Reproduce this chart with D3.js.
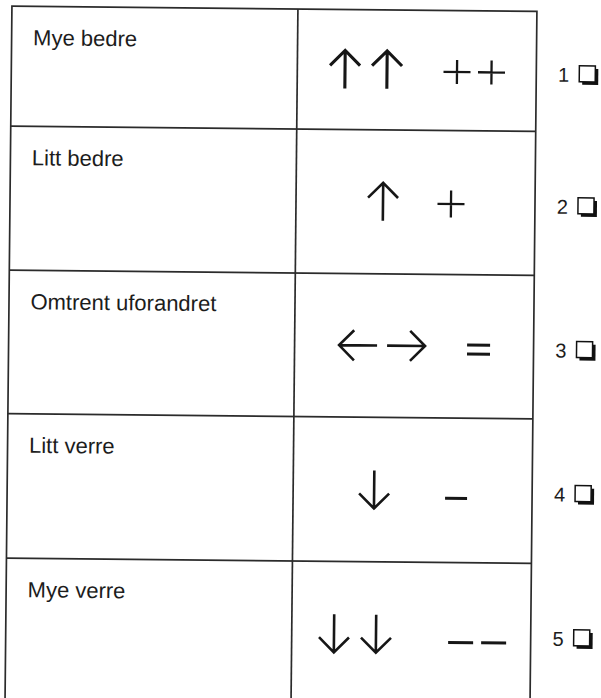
<!DOCTYPE html>
<html><head><meta charset="utf-8">
<script src="https://cdn.jsdelivr.net/npm/d3@7"></script>
<style>html,body{margin:0;padding:0;background:#fff;}svg{display:block}</style>
</head><body>
<svg id="c" width="601" height="698"></svg>
<script>
// ---- data ----
const labels = ["Mye bedre", "Litt bedre", "Omtrent uforandret", "Litt verre", "Mye verre"];
const codes = ["1", "2", "3", "4", "5"];
const arrowSymbols = ["↑↑", "↑", "←→", "↓", "↓↓"];
const signSymbols = ["++", "+", "=", "−", "−−"];

// ---- layout ----
const W = 601, H = 698;
const rowEdges = [6, 126, 270, 413.5, 558, 702];
const xL = 12, xM = 298, xR = 537;
const arrowX = [[345.7, 387.7], [385], [361.5, 409.5], [379], [340.3, 382.3]];
const signX = [[457.7, 492.2], [453], [482], [461], [467, 500]];
const arrowStroke = [3.1, 2.6, 2.6, 2.6, 2.6];

const svg = d3.select("#c");
svg.append("rect").attr("width", W).attr("height", H).attr("fill", "#fff");
const g = svg.append("g").attr("transform", "rotate(0.57)");

const yTop = d3.scaleOrdinal().domain(labels).range(rowEdges.slice(0, 5));
const yBot = d3.scaleOrdinal().domain(labels).range(rowEdges.slice(1));
const yMid = d => (yTop(d) + yBot(d)) / 2;

const lineCol = "#2b2b2b", inkCol = "#161616";

// table grid
g.append("rect").attr("x", xL).attr("y", rowEdges[0]).attr("width", xR - xL)
  .attr("height", rowEdges[5] - rowEdges[0]).attr("fill", "none")
  .attr("stroke", lineCol).attr("stroke-width", 1.7);
g.append("line").attr("x1", xM).attr("x2", xM).attr("y1", rowEdges[0]).attr("y2", rowEdges[5])
  .attr("stroke", lineCol).attr("stroke-width", 1.7);
g.selectAll("line.row").data(labels.slice(1)).join("line").attr("class", "row")
  .attr("x1", xL).attr("x2", xR).attr("y1", d => yTop(d)).attr("y2", d => yTop(d))
  .attr("stroke", lineCol).attr("stroke-width", 1.7);

// labels
g.selectAll("text.lab").data(labels).join("text").attr("class", "lab")
  .attr("x", 33.5).attr("y", d => yTop(d) + 39)
  .attr("font-family", "'Liberation Sans', Arial, sans-serif").attr("font-size", 22)
  .attr("fill", "#1c1c1c").text(d => d);

// arrows
function arrowPath(ch, cx, cy) {
  const h = 19, hw = 15, hd = 15;
  const p = d3.path();
  if (ch === "↑") { p.moveTo(cx, cy + h); p.lineTo(cx, cy - h); p.moveTo(cx - hw, cy - h + hd); p.lineTo(cx, cy - h); p.lineTo(cx + hw, cy - h + hd); }
  if (ch === "↓") { p.moveTo(cx, cy - h); p.lineTo(cx, cy + h); p.moveTo(cx - hw, cy + h - hd); p.lineTo(cx, cy + h); p.lineTo(cx + hw, cy + h - hd); }
  if (ch === "←") { p.moveTo(cx + h, cy); p.lineTo(cx - h, cy); p.moveTo(cx - h + hd, cy - hw); p.lineTo(cx - h, cy); p.lineTo(cx - h + hd, cy + hw); }
  if (ch === "→") { p.moveTo(cx - h, cy); p.lineTo(cx + h, cy); p.moveTo(cx + h - hd, cy - hw); p.lineTo(cx + h, cy); p.lineTo(cx + h - hd, cy + hw); }
  return p.toString();
}
labels.forEach((lab, i) => {
  const cy = yMid(lab);
  Array.from(arrowSymbols[i]).forEach((ch, j) => {
    g.append("path").attr("d", arrowPath(ch, arrowX[i][j], cy))
      .attr("fill", "none").attr("stroke", inkCol).attr("stroke-width", arrowStroke[i])
      .attr("stroke-linecap", "butt").attr("stroke-linejoin", "miter");
  });
  Array.from(signSymbols[i]).forEach((ch, j) => {
    const cx = signX[i][j];
    const p = d3.path();
    let sw = 2.3;
    if (ch === "+") {
      const c = cy + 1.5, hw = 13.5, hh = (i === 0 ? 12 : 13.5);
      p.moveTo(cx - hw, c); p.lineTo(cx + hw, c);
      p.moveTo(cx, c - hh); p.lineTo(cx, c + hh);
    } else if (ch === "=") {
      const c = cy + 3;
      p.moveTo(cx - 11.5, c - 4.5); p.lineTo(cx + 11.5, c - 4.5);
      p.moveTo(cx - 11.5, c + 4.5); p.lineTo(cx + 11.5, c + 4.5);
      sw = 3;
    } else {
      const c = cy + 8, hw = (signSymbols[i].length > 1 ? 12.5 : 11);
      p.moveTo(cx - hw, c); p.lineTo(cx + hw, c);
      sw = 3;
    }
    g.append("path").attr("d", p.toString()).attr("fill", "none")
      .attr("stroke", inkCol).attr("stroke-width", sw);
  });
});

// codes with check boxes
const cg = g.selectAll("g.code").data(labels).join("g").attr("class", "code")
  .attr("transform", d => `translate(0,${yMid(d) + 3})`);
cg.append("text").attr("x", 570).attr("y", 7.3).attr("text-anchor", "end")
  .attr("font-family", "'Liberation Sans', Arial, sans-serif").attr("font-size", 20)
  .attr("fill", "#1c1c1c").text((d, i) => codes[i]);
cg.append("rect").attr("x", 583).attr("y", -6).attr("width", 16).attr("height", 16).attr("fill", "#111");
cg.append("rect").attr("x", 580).attr("y", -9).attr("width", 16).attr("height", 16)
  .attr("fill", "#fff").attr("stroke", "#111").attr("stroke-width", 1.5);
</script>
</body></html>
